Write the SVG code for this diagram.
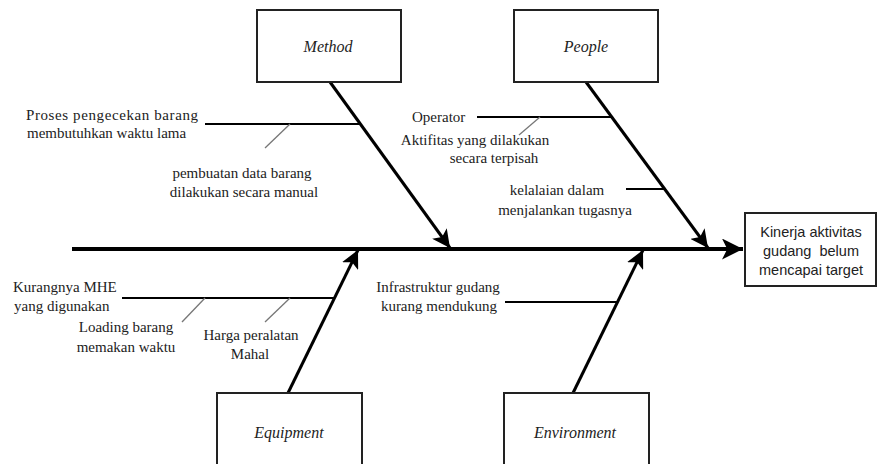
<svg xmlns="http://www.w3.org/2000/svg" width="878" height="464" viewBox="0 0 878 464">
<defs>
<style>
.box{fill:#fff;stroke:#222;stroke-width:2}
.cat{font-family:'Liberation Serif','Times New Roman',serif;font-style:italic;font-size:16px;fill:#222;text-anchor:middle}
.t{font-family:'Liberation Serif','Times New Roman',serif;font-size:15px;fill:#222}
.m{text-anchor:middle}
.head{font-family:'Liberation Sans',Arial,sans-serif;font-size:14.5px;fill:#222;text-anchor:middle}
.spine{stroke:#000;stroke-width:4;fill:none}
.bone{stroke:#000;stroke-width:3;fill:none}
.sub{stroke:#000;stroke-width:2;fill:none}
.minor{stroke:#777;stroke-width:1.3;fill:none}
</style>
<marker id="bigArrow" markerUnits="userSpaceOnUse" viewBox="0 0 20 20" markerWidth="21" markerHeight="21" refX="20" refY="10" orient="auto">
<path d="M0,0 L20,10 L0,20 L5,10 z" fill="#000"/>
</marker>
<marker id="arrow" markerUnits="userSpaceOnUse" viewBox="0 0 20 20" markerWidth="18" markerHeight="18" refX="20" refY="10" orient="auto">
<path d="M0,0 L20,10 L0,20 L5,10 z" fill="#000"/>
</marker>
</defs>
<rect width="878" height="464" fill="#fff"/>

<g id="connectors">
<line class="spine" x1="72" y1="249" x2="743" y2="249" marker-end="url(#bigArrow)"/>
<line class="bone" x1="330" y1="82" x2="450" y2="248" marker-end="url(#arrow)"/>
<line class="bone" x1="586" y1="82" x2="708" y2="248" marker-end="url(#arrow)"/>
<line class="bone" x1="288" y1="393" x2="358" y2="250" marker-end="url(#arrow)"/>
<line class="bone" x1="573" y1="393" x2="643" y2="250" marker-end="url(#arrow)"/>
<line class="sub" x1="205" y1="124" x2="360" y2="124"/>
<line class="minor" x1="290" y1="124" x2="265" y2="148"/>
<line class="sub" x1="477" y1="117" x2="612" y2="117"/>
<line class="minor" x1="540" y1="117" x2="519" y2="135"/>
<line class="sub" x1="626" y1="189" x2="665" y2="189"/>
<line class="sub" x1="122" y1="298" x2="335" y2="298"/>
<line class="minor" x1="205" y1="298" x2="182" y2="322"/>
<line class="minor" x1="290" y1="298" x2="265" y2="322"/>
<line class="sub" x1="505" y1="302" x2="618" y2="302"/>
</g>

<g id="method">
<rect class="box" x="257" y="10" width="144" height="72"/>
<text class="cat" x="328" y="52">Method</text>
</g>
<g id="people">
<rect class="box" x="514" y="10" width="144" height="72"/>
<text class="cat" x="586" y="52">People</text>
</g>
<g id="equipment">
<rect class="box" x="217" y="393" width="145" height="74"/>
<text class="cat" x="289" y="438">Equipment</text>
</g>
<g id="environment">
<rect class="box" x="504" y="393" width="145" height="74"/>
<text class="cat" x="575" y="438">Environment</text>
</g>
<g id="effect">
<rect class="box" x="745" y="213" width="131" height="73"/>
<text class="head" x="811" y="237">Kinerja aktivitas</text>
<text class="head" x="811" y="256" xml:space="preserve">gudang  belum</text>
<text class="head" x="811" y="275">mencapai target</text>
</g>

<g id="cause-method">
<text class="t" x="26" y="120" textLength="172" lengthAdjust="spacing">Proses pengecekan barang</text>
<text class="t" x="27" y="138">membutuhkan waktu lama</text>
<text class="t m" x="242" y="178">pembuatan data barang</text>
<text class="t m" x="244" y="197">dilakukan secara manual</text>
</g>
<g id="cause-people">
<text class="t" x="412" y="122">Operator</text>
<text class="t m" x="475" y="145">Aktifitas yang dilakukan</text>
<text class="t m" x="494" y="163">secara terpisah</text>
<text class="t m" x="557" y="195">kelalaian dalam</text>
<text class="t m" x="565" y="215">menjalankan tugasnya</text>
</g>
<g id="cause-equipment">
<text class="t" x="13" y="292">Kurangnya MHE</text>
<text class="t" x="14" y="311">yang digunakan</text>
<text class="t m" x="126" y="332">Loading barang</text>
<text class="t m" x="126" y="352">memakan waktu</text>
<text class="t m" x="251" y="340">Harga peralatan</text>
<text class="t m" x="250" y="359">Mahal</text>
</g>
<g id="cause-environment">
<text class="t m" x="438" y="292">Infrastruktur gudang</text>
<text class="t m" x="439" y="311">kurang mendukung</text>
</g>
</svg>
